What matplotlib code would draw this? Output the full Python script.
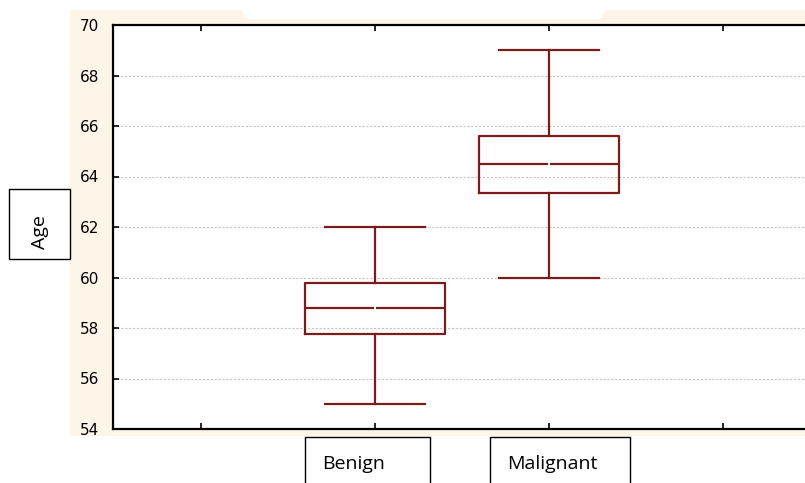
import matplotlib
matplotlib.use("Agg")
import matplotlib.pyplot as plt
from matplotlib.patches import Polygon, Rectangle

categories = ["Benign", "Malignant"]
whisker_low = [55.0, 60.0]
quartile_1 = [57.75, 63.35]
medians = [58.8, 64.5]
quartile_3 = [59.8, 65.6]
whisker_high = [62.0, 69.0]
y_ticks = [54, 56, 58, 60, 62, 64, 66, 68, 70]
y_label = "Age"

W, H = 805, 483
fig = plt.figure(figsize=(W / 100, H / 100), dpi=100)

def fx(px):
    return px / W

def fy(py):
    return 1 - py / H

cream = "#FDF5E8"
bg = Polygon([(fx(70), fy(10)), (fx(241), fy(10)), (fx(247), fy(19)),
              (fx(600), fy(19)), (fx(606), fy(10)), (fx(805), fy(10)),
              (fx(805), fy(436)), (fx(70), fy(436))],
             closed=True, transform=fig.transFigure, facecolor=cream,
             edgecolor="none", zorder=-5)
fig.patches.append(bg)

ax = fig.add_axes([fx(113), fy(429), fx(805) - fx(113), fy(25) - fy(429)])
ax.set_zorder(1)
ax.set_facecolor("white")

positions = [1, 2]
stats = []
for i, c in enumerate(categories):
    stats.append(dict(label=c, whislo=whisker_low[i], q1=quartile_1[i],
                      med=medians[i], q3=quartile_3[i], whishi=whisker_high[i],
                      fliers=[]))
red = "#7A1C1C"
ax.bxp(stats, positions=positions, widths=0.8, capwidths=0.57,
       showfliers=False,
       boxprops=dict(color=red, linewidth=1.6),
       whiskerprops=dict(color=red, linewidth=1.6),
       capprops=dict(color=red, linewidth=1.6),
       medianprops=dict(linewidth=0))
# medians with small center gap
for p, m in zip(positions, medians):
    ax.hlines(m, p - 0.4, p - 0.008, color=red, linewidth=1.6, zorder=3)
    ax.hlines(m, p + 0.008, p + 0.4, color=red, linewidth=1.6, zorder=3)

ax.set_xlim(-0.506, 3.471)
ax.set_ylim(54, 70)
ax.set_yticks(y_ticks)
ax.set_yticklabels([str(t) for t in y_ticks], fontsize=11, family="DejaVu Sans")
ax.set_xticks([0, 1, 2, 3])
ax.set_xticklabels([])
ax.tick_params(axis="y", direction="in", length=4, width=1.2, pad=10, left=True, right=False)
ax.tick_params(axis="x", direction="in", length=4, width=1.2, top=True, bottom=True)

ax.yaxis.grid(True, linestyle=(0, (2, 1.5)), color="#C4C4C4", linewidth=0.8)
ax.set_axisbelow(True)

for s in ["left", "top", "bottom"]:
    ax.spines[s].set_linewidth(1.6)
    ax.spines[s].set_color("black")
ax.spines["right"].set_visible(False)

# category label boxes
boxes = [(305, 430, 322), (490, 630, 507)]
for (l, r, tx), c in zip(boxes, categories):
    fig.patches.append(Rectangle((fx(l), fy(490)), fx(r) - fx(l), fy(437) - fy(490),
                                 transform=fig.transFigure, facecolor="white",
                                 edgecolor="black", linewidth=1.0, zorder=5))
    fig.text(fx(tx), fy(469), c, fontsize=14, family="Open Sans",
             ha="left", va="baseline", zorder=6)

# y label box
fig.patches.append(Rectangle((fx(9), fy(259)), fx(70) - fx(9), fy(189) - fy(259),
                             transform=fig.transFigure, facecolor="white",
                             edgecolor="black", linewidth=1.0, zorder=5))
fig.text(fx(40), fy(232), y_label, fontsize=14, family="Open Sans", rotation=90,
         ha="center", va="center", zorder=6)

fig.savefig("out.png", dpi=100)
